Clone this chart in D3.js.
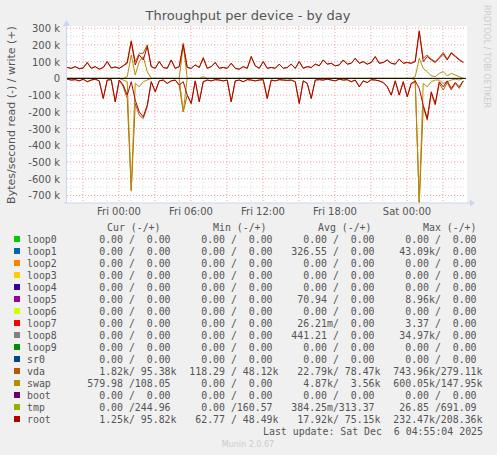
<!DOCTYPE html>
<html><head><meta charset="utf-8">
<script src="https://cdn.jsdelivr.net/npm/d3@7"></script>
<style>body{margin:0;background:#f0f0f0}svg{display:block}</style>
</head><body>
<script>
// 20-minute samples starting Thu 19:40, values in k bytes/s
const rootWrite=[65,60,70,58,62,95,60,70,55,65,100,62,68,60,75,90,220,80,140,110,190,70,60,100,65,60,110,60,70,200,65,60,80,65,120,60,70,95,60,65,60,90,60,55,70,60,130,75,60,100,60,65,60,85,60,65,85,60,100,60,70,65,85,75,110,85,90,75,80,110,85,90,120,90,100,85,95,130,90,95,110,90,85,115,90,95,90,100,280,100,130,110,95,120,145,110,150,130,110,95];
const rootRead=[5,10,8,15,5,20,10,5,15,120,10,8,140,10,40,100,20,130,200,230,160,20,80,15,10,30,15,10,40,20,100,150,15,140,20,10,15,8,10,15,10,140,15,10,20,8,10,15,10,8,120,10,15,8,10,12,10,20,150,15,30,120,10,8,10,5,10,15,5,10,8,20,10,50,15,25,8,10,15,25,50,100,15,100,20,110,30,15,60,160,240,80,150,20,50,15,60,25,50,15];
const swapWrite=[0,0,0,0,0,0,0,0,0,0,0,0,0,0,0,10,140,20,100,130,40,0,0,0,0,0,0,0,0,200,0,0,0,0,10,0,0,0,0,0,0,0,0,0,0,0,0,0,0,0,0,0,0,0,0,0,0,0,0,0,0,0,0,0,0,0,0,0,0,0,0,0,0,0,0,0,0,0,0,0,0,0,0,0,0,0,0,10,120,60,40,15,10,30,40,15,30,20,10,0];
const swapRead=[0,0,0,0,0,0,0,0,0,0,0,0,0,0,10,20,670,30,50,20,10,0,0,0,0,0,0,0,0,200,0,0,0,0,0,0,0,0,0,0,0,0,0,0,0,0,0,0,0,0,0,0,0,0,0,0,0,0,0,0,0,0,0,0,0,0,0,0,0,0,0,0,0,0,0,0,0,0,0,0,0,0,0,0,0,0,0,10,740,30,50,20,10,10,30,20,10,5,10,0];
const vdaWrite=[65,60,70,58,62,95,60,70,55,65,100,62,68,60,75,100,225,100,150,150,200,70,60,100,65,60,110,60,70,210,65,60,80,65,125,60,70,95,60,65,60,90,60,55,70,60,130,75,60,100,60,65,60,85,60,65,85,60,100,60,70,65,85,75,110,85,90,75,80,110,85,90,120,90,100,85,95,130,90,95,110,90,85,115,90,95,90,105,285,120,140,115,100,125,155,115,155,135,115,95];
const vdaRead=[5,10,8,15,5,20,10,5,15,120,10,8,140,10,50,120,670,150,220,240,170,20,80,15,10,30,15,10,40,200,100,150,15,140,20,10,15,8,10,15,10,140,15,10,20,8,10,15,10,8,120,10,15,8,10,12,10,20,150,15,30,120,10,8,10,5,10,15,5,10,8,20,10,50,15,25,8,10,15,25,50,100,15,100,20,110,30,25,745,170,250,90,160,30,70,25,70,30,60,15];
const yTicks=[300,200,100,0,-100,-200,-300,-400,-500,-600,-700];
const xTickHours=[4.333,10.333,16.333,22.333,28.333];
const xTickLabels=["Fri 00:00","Fri 06:00","Fri 12:00","Fri 18:00","Sat 00:00"];
const names=["loop0","loop1","loop2","loop3","loop4","loop5","loop6","loop7","loop8","loop9","sr0","vda","swap","boot","tmp","root"];
const colors=["#00cc00","#0066b3","#ff8000","#ffcc00","#330099","#990099","#ccff00","#ff0000","#808080","#008f00","#00487d","#b35a00","#b38f00","#6b006b","#8fb300","#b30000"];
const cur=[["0.00","0.00"],["0.00","0.00"],["0.00","0.00"],["0.00","0.00"],["0.00","0.00"],["0.00","0.00"],["0.00","0.00"],["0.00","0.00"],["0.00","0.00"],["0.00","0.00"],["0.00","0.00"],["1.82k","95.38k"],["579.98","108.05"],["0.00","0.00"],["0.00","244.96"],["1.25k","95.82k"]];
const mins=[["0.00","0.00"],["0.00","0.00"],["0.00","0.00"],["0.00","0.00"],["0.00","0.00"],["0.00","0.00"],["0.00","0.00"],["0.00","0.00"],["0.00","0.00"],["0.00","0.00"],["0.00","0.00"],["118.29","48.12k"],["0.00","0.00"],["0.00","0.00"],["0.00","160.57"],["62.77","48.49k"]];
const avgs=[["0.00","0.00"],["326.55","0.00"],["0.00","0.00"],["0.00","0.00"],["0.00","0.00"],["70.94","0.00"],["0.00","0.00"],["26.21m","0.00"],["441.21","0.00"],["0.00","0.00"],["0.00","0.00"],["22.79k","78.47k"],["4.87k","3.56k"],["0.00","0.00"],["384.25m","313.37"],["17.92k","75.15k"]];
const maxs=[["0.00","0.00"],["43.09k","0.00"],["0.00","0.00"],["0.00","0.00"],["0.00","0.00"],["8.96k","0.00"],["0.00","0.00"],["3.37","0.00"],["34.97k","0.00"],["0.00","0.00"],["0.00","0.00"],["743.96k","279.11k"],["600.05k","147.95k"],["0.00","0.00"],["26.85","691.09"],["232.47k","208.36k"]];

const W=497,H=455;
const svg=d3.select("body").append("svg").attr("width",W).attr("height",H).style("font-family","DejaVu Sans");
const x=d3.scaleLinear().domain([0,33.25]).range([67,466]);
const y=d3.scaleLinear().domain([-745,313]).range([203,26]);
svg.append("rect").attr("x",67).attr("y",26).attr("width",400).attr("height",177).attr("fill","#fff");
const g=svg.append("g");
for(let v=-700;v<=300;v+=50){ if(v%100) g.append("line").attr("x1",67).attr("x2",466).attr("y1",y(v)).attr("y2",y(v)).attr("stroke","#ddd").attr("stroke-dasharray","1,2");}
for(let h=0.333;h<=33.25;h+=1){ if(Math.round(h-0.333)%3!==1) g.append("line").attr("x1",x(h)).attr("x2",x(h)).attr("y1",26).attr("y2",203).attr("stroke","#ddd").attr("stroke-dasharray","1,2");}
yTicks.forEach(v=>g.append("line").attr("x1",67).attr("x2",466).attr("y1",y(v)).attr("y2",y(v)).attr("stroke","#f0a0a0").attr("stroke-dasharray","1,2"));
for(let h=1.333;h<=33.25;h+=3) g.append("line").attr("x1",x(h)).attr("x2",x(h)).attr("y1",26).attr("y2",203).attr("stroke","#f0a0a0").attr("stroke-dasharray","1,2");
svg.append("line").attr("x1",66.5).attr("x2",66.5).attr("y1",22).attr("y2",203).attr("stroke","#ccd5f0");
svg.append("line").attr("x1",64).attr("x2",470).attr("y1",203).attr("y2",203).attr("stroke","#ccd5f0");
svg.append("path").attr("d","M63,26 L70,26 L66.5,20 Z").attr("fill","#ccd5f0");
svg.append("path").attr("d","M470,199.5 L470,206.5 L475,203 Z").attr("fill","#ccd5f0");
yTicks.forEach(v=>svg.append("text").attr("x",60).attr("y",y(v)+4).attr("text-anchor","end").attr("font-size",10).attr("fill","#555").text(v===0?"0":v+" k"));
xTickHours.forEach((h,i)=>svg.append("text").attr("x",x(h)).attr("y",215).attr("text-anchor","middle").attr("font-size",10).attr("fill","#555").text(xTickLabels[i]));
function draw(arr,sign,col){g.append("path").datum(arr).attr("fill","none").attr("stroke",col).attr("stroke-width",1).attr("d",d3.line().x((d,i)=>x(i/3+0.02)).y(d=>y(sign*d))(arr));}
draw(vdaRead,-1,colors[11]);draw(vdaWrite,1,colors[11]);
draw(swapRead,-1,colors[12]);draw(swapWrite,1,colors[12]);
draw(rootRead,-1,colors[15]);draw(rootWrite,1,colors[15]);
g.append("line").attr("x1",67).attr("x2",466).attr("y1",y(0)).attr("y2",y(0)).attr("stroke","#000");
svg.append("text").attr("x",248).attr("y",20).attr("text-anchor","middle").attr("font-size",13).attr("fill","#555").text("Throughput per device - by day");
svg.append("text").attr("transform","translate(15,115) rotate(-90)").attr("text-anchor","middle").attr("font-size",11).attr("fill","#555").text("Bytes/second read (-) / write (+)");
svg.append("text").attr("transform","translate(484,5) rotate(90)").attr("font-size",8).attr("fill","#ccc").text("RRDTOOL / TOBI OETIKER");
const mono="DejaVu Sans Mono";
const fs=9.9;
function pad(s){const suf=/[km]$/.test(s)?s.slice(-1):" ";const n=suf===" "?s:s.slice(0,-1);return n.padStart(6," ")+suf;}
function cell(p){return pad(p[0])+"/"+pad(p[1]);}
const hdr=[["Cur (-/+)",107],["Min (-/+)",213],["Avg (-/+)",318],["Max (-/+)",423]];
hdr.forEach(h=>svg.append("text").attr("x",h[1]).attr("y",231).attr("font-family",mono).attr("font-size",fs).attr("fill","#555").text(h[0]));
const colX=[87.3,189.3,291.3,393.3];
names.forEach((n,i)=>{
  const yy=243+i*12;
  svg.append("rect").attr("x",14).attr("y",yy-7).attr("width",6).attr("height",6).attr("fill",colors[i]);
  svg.append("text").attr("x",27).attr("y",yy).attr("font-family",mono).attr("font-size",fs).attr("fill","#555").text(n);
  [cur,mins,avgs,maxs].forEach((arr,c)=>svg.append("text").attr("x",colX[c]).attr("y",yy).attr("font-family",mono).attr("font-size",fs).attr("fill","#555").style("white-space","pre").text(cell(arr[i])));
});
svg.append("text").attr("x",483).attr("y",435).attr("text-anchor","end").attr("font-family",mono).attr("font-size",fs).attr("fill","#555").style("white-space","pre").text("Last update: Sat Dec  6 04:55:04 2025");
svg.append("text").attr("x",248).attr("y",447).attr("text-anchor","middle").attr("font-size",8).attr("fill","#ccc").text("Munin 2.0.67");
</script>
</body></html>
